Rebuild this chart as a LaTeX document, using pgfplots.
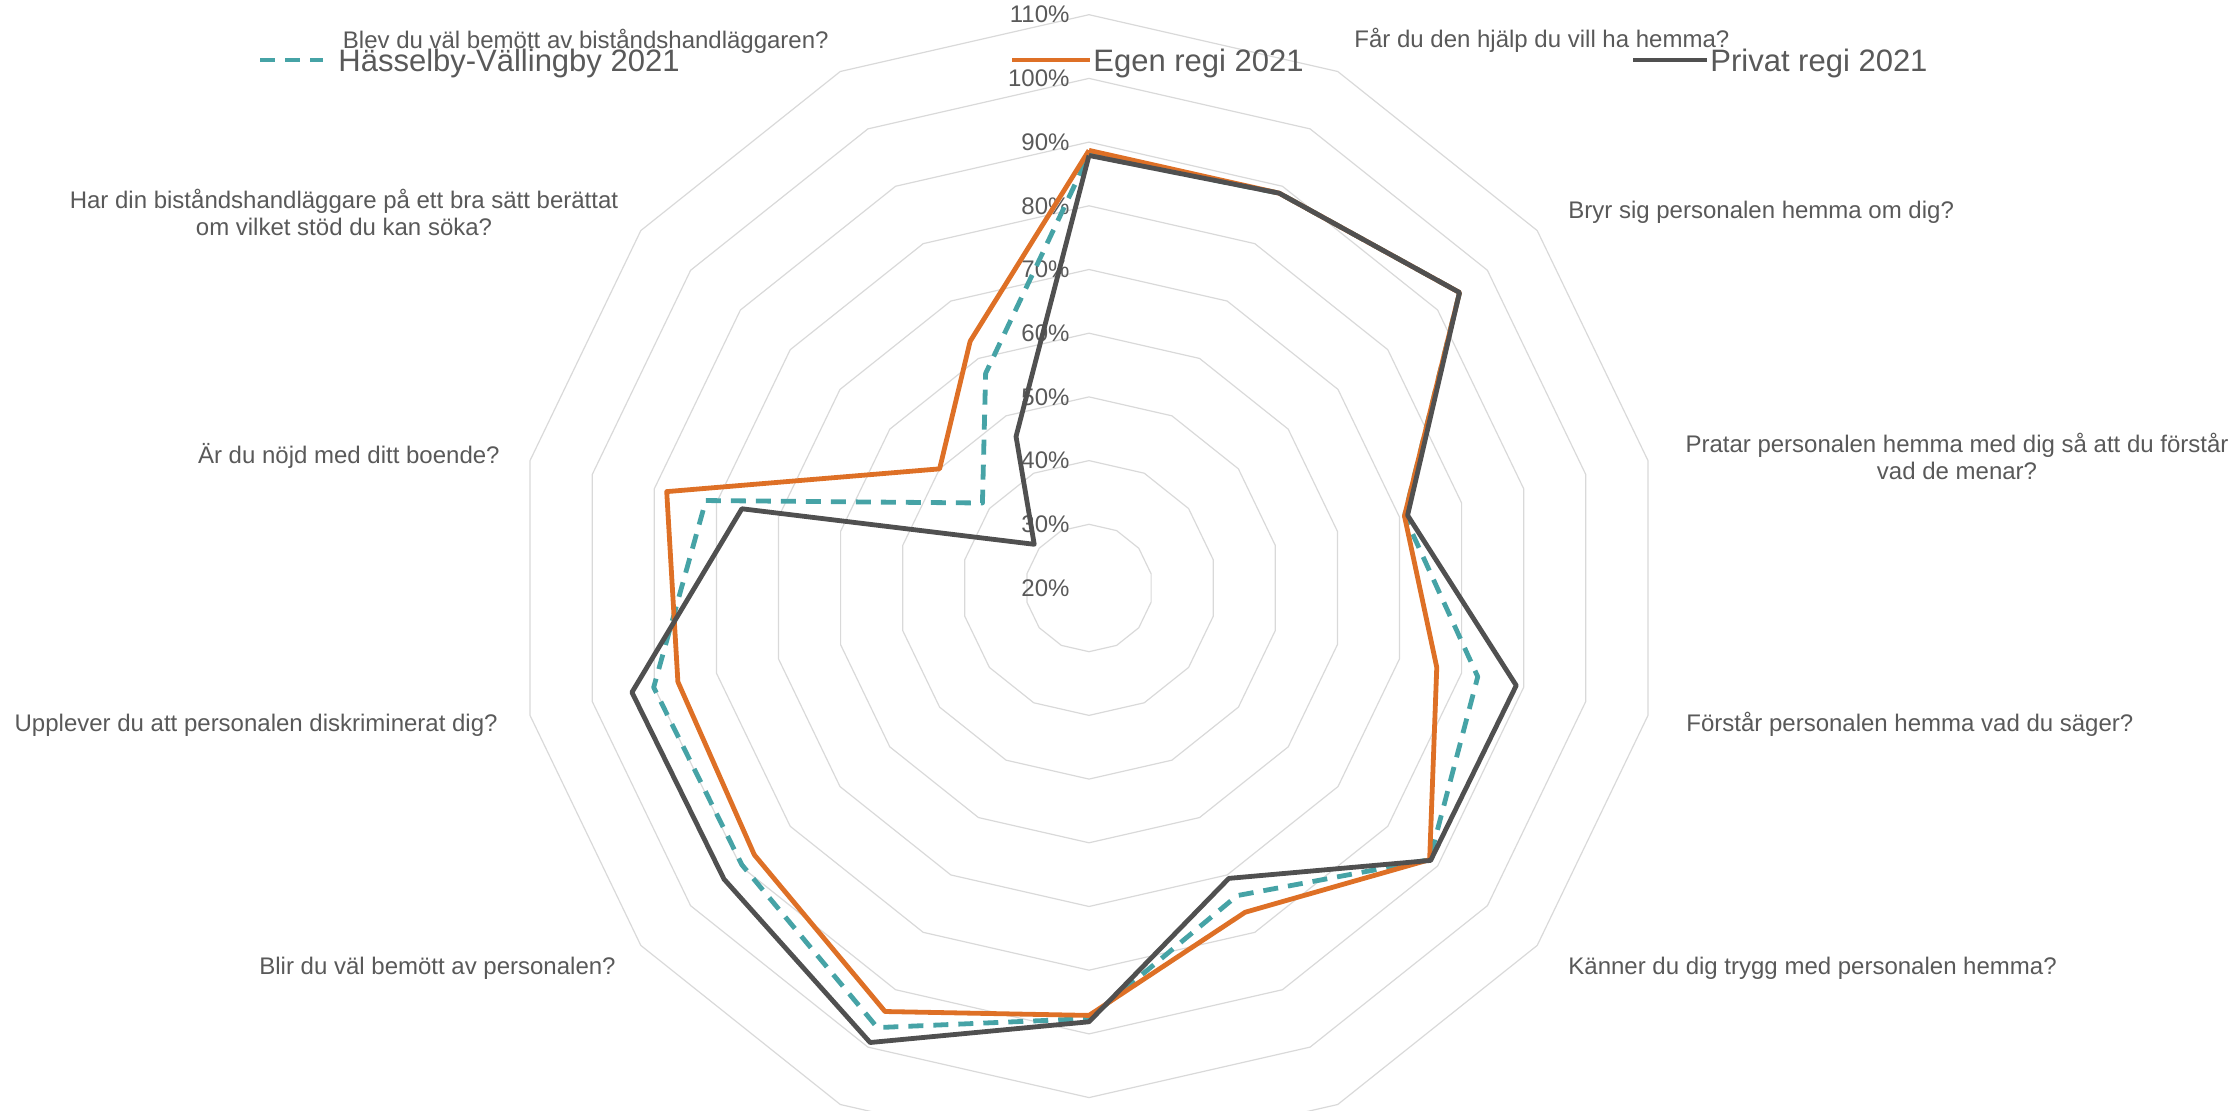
\documentclass[border=0pt]{standalone}
\usepackage{pgfplots}
\pgfplotsset{compat=1.18}
\usepackage{pgfplotstable}
\usepackage{fontspec}
\setmainfont{Liberation Sans}
\definecolor{hvc}{RGB}{70,163,166}
\definecolor{egc}{RGB}{222,112,38}
\definecolor{prc}{RGB}{80,80,80}
\definecolor{ringc}{RGB}{217,217,217}
\definecolor{txtc}{RGB}{89,89,89}

% k = spoke index (clockwise from top, 14 spokes); values in percent
\pgfplotstableread{
k hv egen privat
0 88.0 88.7 87.9
1 88.8 88.8 88.8
2 94.4 94.4 94.4
3 70.8 70.8 71.3
4 82.6 76.0 88.8
5 88.4 88.4 88.6
6 73.6 76.5 70.6
7 87.6 87.1 88.1
8 96.6 93.8 99.2
9 89.7 87.2 93.3
10 90.1 86.2 93.6
11 81.7 88.0 75.9
12 41.4 50.0 31.0
13 57.4 63.0 46.4
14 88.0 88.7 87.9
}\radardata

\begin{document}
\begin{tikzpicture}[x=0.5pt,y=0.5pt]
\useasboundingbox (0,0) rectangle (2233,1110);
\clip (0,0) rectangle (2233,1110);
\begin{axis}[at={(544.5pt,261pt)}, anchor=origin,
  x=3.185pt, y=3.185pt, xmin=-100, xmax=100, ymin=-100, ymax=100,
  hide axis, clip=false]
  \pgfplotsinvokeforeach{10,20,30,40,50,60,70,80,90}{
    \draw[ringc, line width=0.6pt] (axis cs:0,#1)
      \foreach \k in {1,...,13} { -- (axis cs:{#1*sin(\k*360/14)},{#1*cos(\k*360/14)}) } -- cycle;
  }
  \pgfplotsinvokeforeach{0,10,20,30,40,50,60,70,80,90}{
    \node[anchor=east, inner sep=0pt, text=txtc, font=\fontsize{12}{14}\selectfont]
      at (axis cs:-3,#1) {\pgfmathparse{int(#1+20)}\pgfmathresult\%};
  }
  \addplot[hvc, line width=2.4pt, dash pattern=on 7.5pt off 5pt, line join=round]
    table[x expr={(\thisrow{hv}-20)*sin(\thisrow{k}*360/14)},
          y expr={(\thisrow{hv}-20)*cos(\thisrow{k}*360/14)}] {\radardata};
  \addplot[egc, line width=2.4pt, line join=round]
    table[x expr={(\thisrow{egen}-20)*sin(\thisrow{k}*360/14)},
          y expr={(\thisrow{egen}-20)*cos(\thisrow{k}*360/14)}] {\radardata};
  \addplot[prc, line width=2.4pt, line join=round]
    table[x expr={(\thisrow{privat}-20)*sin(\thisrow{k}*360/14)},
          y expr={(\thisrow{privat}-20)*cos(\thisrow{k}*360/14)}] {\radardata};
\end{axis}

% category labels
\begin{scope}[every node/.style={inner sep=0pt, text=txtc, font=\fontsize{12}{13.5}\selectfont}]
\node[anchor=east] at (829,1069) {Blev du väl bemött av biståndshandläggaren?};
\node[anchor=west] at (1354,1070) {Får du den hjälp du vill ha hemma?};
\node[anchor=west] at (1568,898) {Bryr sig personalen hemma om dig?};
\node[align=center] at (1957,654) {Pratar personalen hemma med dig så att du förstår\\vad de menar?};
\node[anchor=west] at (1686,385.5) {Förstår personalen hemma vad du säger?};
\node[anchor=west] at (1568,142) {Känner du dig trygg med personalen hemma?};
\node[align=center] at (344,898) {Har din biståndshandläggare på ett bra sätt berättat\\om vilket stöd du kan söka?};
\node[anchor=east] at (500,654) {Är du nöjd med ditt boende?};
\node[anchor=east] at (498,384.5) {Upplever du att personalen diskriminerat dig?};
\node[anchor=east] at (616,142) {Blir du väl bemött av personalen?};
\end{scope}

% legend
\begin{scope}[every node/.style={inner sep=0pt, text=txtc, font=\fontsize{15.5}{18}\selectfont, anchor=base west}]
\draw[hvc, line width=2.4pt, dash pattern=on 7.5pt off 5pt] (260,1050) -- (323,1050);
\node at (338,1038) {Hässelby-Vällingby 2021};
\draw[egc, line width=2.4pt] (1012,1050) -- (1090,1050);
\node at (1093,1038) {Egen regi 2021};
\draw[prc, line width=2.4pt] (1633,1050) -- (1707,1050);
\node at (1710,1038) {Privat regi 2021};
\end{scope}
\end{tikzpicture}
\end{document}
